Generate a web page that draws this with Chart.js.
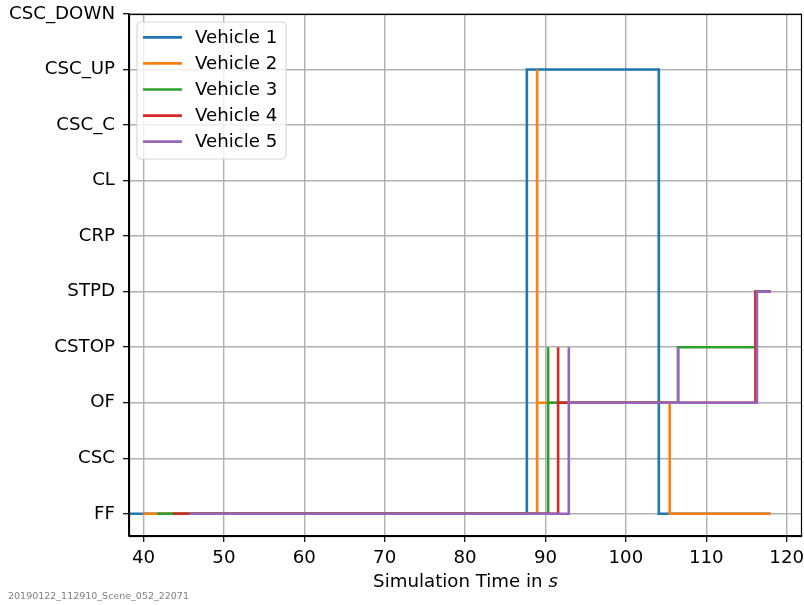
<!DOCTYPE html>
<html>
<head>
<meta charset="utf-8">
<script src="https://cdn.jsdelivr.net/npm/chart.js@4.4.1/dist/chart.umd.min.js"></script>
<style>
  html, body { margin: 0; padding: 0; background: #fff; }
  #wrap { width: 804px; height: 605px; }
</style>
</head>
<body>
<div id="wrap"><canvas id="stateChart" width="804" height="605"></canvas></div>
<script>
// state names, bottom to top
const stateLabels = ["FF", "CSC", "OF", "CSTOP", "STPD", "CRP", "CL", "CSC_C", "CSC_UP", "CSC_DOWN"];
const xTicks = [40, 50, 60, 70, 80, 90, 100, 110, 120];

const vehicleNames = ["Vehicle 1", "Vehicle 2", "Vehicle 3", "Vehicle 4", "Vehicle 5"];
const vehicleColors = ["#1f77b4", "#ff7f0e", "#2ca02c", "#d62728", "#9467bd"];

// switch times (s) and the state entered at each time
const v1Times  = [38.2, 87.68, 104.09, 118.0];
const v1States = [0, 8, 0, 0];
const v2Times  = [39.95, 88.96, 88.96, 105.45, 118.0];
const v2States = [0, 8, 2, 0, 0];
const v3Times  = [41.7, 90.32, 90.32, 106.49, 116.11, 118.0];
const v3States = [0, 3, 2, 3, 4, 4];
const v4Times  = [43.67, 91.57, 91.57, 116.11, 118.0];
const v4States = [0, 3, 2, 4, 4];
const v5Times  = [45.66, 92.9, 92.9, 106.49, 106.49, 116.3, 118.0];
const v5States = [0, 3, 2, 3, 2, 4, 4];

const allTimes = [v1Times, v2Times, v3Times, v4Times, v5Times];
const allStates = [v1States, v2States, v3States, v4States, v5States];

const FONT = "DejaVu Sans";
const FS = 18.2;

const frameAndLegend = {
    id: "frameAndLegend",
    afterDatasetsDraw(chart) {
        const ctx = chart.ctx;
        const a = chart.chartArea;
        ctx.save();
        ctx.strokeStyle = "#000";
        ctx.lineWidth = 1.2;
        ctx.strokeRect(Math.round(a.left) + 0.5, Math.round(a.top) + 0.5,
                       Math.round(a.right - a.left) - 1, Math.round(a.bottom - a.top));

        // legend box (top-left, inside the axes)
        const bx = a.left + 8, by = a.top + 8, bw = 149, bh = 137, r = 4;
        ctx.beginPath();
        ctx.moveTo(bx + r, by);
        ctx.arcTo(bx + bw, by, bx + bw, by + bh, r);
        ctx.arcTo(bx + bw, by + bh, bx, by + bh, r);
        ctx.arcTo(bx, by + bh, bx, by, r);
        ctx.arcTo(bx, by, bx + bw, by, r);
        ctx.closePath();
        ctx.fillStyle = "rgba(255,255,255,0.8)";
        ctx.fill();
        ctx.strokeStyle = "#d6d6d6";
        ctx.lineWidth = 1.2;
        ctx.stroke();

        ctx.font = FS + "px '" + FONT + "'";
        ctx.textBaseline = "middle";
        ctx.textAlign = "left";
        chart.data.datasets.forEach((ds, i) => {
            const y = by + 15.3 + i * 26.1;
            ctx.strokeStyle = ds.borderColor;
            ctx.lineWidth = 2.7;
            ctx.beginPath();
            ctx.moveTo(bx + 6, y);
            ctx.lineTo(bx + 45, y);
            ctx.stroke();
            ctx.fillStyle = "#000";
            ctx.fillText(ds.label, bx + 58, y + 1);
        });
        ctx.restore();
    },
    afterDraw(chart) {
        const ctx = chart.ctx;
        const a = chart.chartArea;
        ctx.save();
        // x axis title with italic s
        const part1 = "Simulation Time in ";
        const part2 = "s";
        ctx.font = FS + "px '" + FONT + "'";
        const w1 = ctx.measureText(part1).width;
        ctx.font = "italic " + FS + "px '" + FONT + "'";
        const w2 = ctx.measureText(part2).width;
        const cx = (a.left + a.right) / 2;
        const x0 = cx - (w1 + w2) / 2;
        ctx.fillStyle = "#000";
        ctx.textBaseline = "alphabetic";
        ctx.textAlign = "left";
        ctx.font = FS + "px '" + FONT + "'";
        ctx.fillText(part1, x0, 587);
        ctx.font = "italic " + FS + "px '" + FONT + "'";
        ctx.fillText(part2, x0 + w1, 587);

        // scene id footer
        ctx.font = "9.5px '" + FONT + "'";
        ctx.fillStyle = "#808080";
        ctx.fillText("20190122_112910_Scene_052_22071", 8, 599);
        ctx.restore();
    }
};

function buildDatasets() {
    return vehicleNames.map((name, i) => ({
        label: name,
        data: allTimes[i].map((t, k) => ({ x: t, y: allStates[i][k] })),
        borderColor: vehicleColors[i],
        backgroundColor: vehicleColors[i],
        borderWidth: 2.6,
        showLine: true,
        stepped: "before",
        pointRadius: 0,
        fill: false,
        order: vehicleNames.length - i   // later vehicles on top
    }));
}

function createStateChart() {
    const ctx = document.getElementById("stateChart");

    new Chart(ctx, {
        type: "scatter",
        data: { datasets: buildDatasets() },
        options: {
            responsive: false,
            animation: false,
            devicePixelRatio: 1,
            layout: { padding: { top: 14, right: 2, left: 0, bottom: 0 } },
            plugins: {
                legend: { display: false },
                tooltip: { enabled: false }
            },
            scales: {
                x: {
                    type: "linear",
                    min: 38.2,
                    max: 121.9,
                    afterBuildTicks: axis => { axis.ticks = xTicks.map(v => ({ value: v })); },
                    afterFit: axis => {
                        axis.height = 69;
                        axis.paddingLeft = 0;
                        axis.paddingRight = 0;
                    },
                    grid: { color: "#b0b0b0", lineWidth: 1.4, tickLength: 6, tickColor: "#000", tickWidth: 1.2 },
                    border: { color: "#000", width: 1.2 },
                    ticks: {
                        color: "#000",
                        font: { family: FONT, size: FS },
                        padding: 5,
                        maxRotation: 0,
                        callback: v => v
                    }
                },
                y: {
                    type: "linear",
                    min: -0.4,
                    max: 9,
                    afterBuildTicks: axis => { axis.ticks = stateLabels.map((s, i) => ({ value: i })); },
                    afterFit: axis => {
                        axis.width = 129;
                        axis.paddingTop = 0;
                        axis.paddingBottom = 0;
                    },
                    grid: { color: "#b0b0b0", lineWidth: 1.4, tickLength: 6, tickColor: "#000", tickWidth: 1.2 },
                    border: { color: "#000", width: 1.2 },
                    ticks: {
                        color: "#000",
                        font: { family: FONT, size: FS },
                        padding: 8,
                        callback: v => stateLabels[v]
                    }
                }
            }
        },
        plugins: [frameAndLegend]
    });
}

document.addEventListener("DOMContentLoaded", function () {
    createStateChart();
});
</script>
</body>
</html>
